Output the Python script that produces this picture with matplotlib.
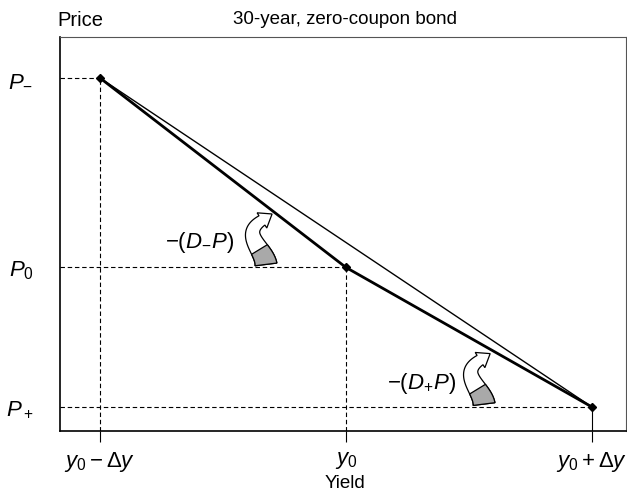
import numpy as np
import matplotlib
matplotlib.use("Agg")
import matplotlib.pyplot as plt
from matplotlib.patches import Polygon
from matplotlib.transforms import IdentityTransform

plt.rcParams['font.family'] = 'Liberation Sans'
plt.rcParams['mathtext.fontset'] = 'custom'
plt.rcParams['mathtext.it'] = 'Liberation Sans:italic'
plt.rcParams['mathtext.rm'] = 'Liberation Sans'
plt.rcParams['mathtext.sf'] = 'Liberation Sans'

# values (yield in %, price of a 30-year zero)
yields = [5.0, 6.0, 7.0]
prices = [23.1, 17.4, 13.2]
x_labels = [r'$y_0 - \Delta y$', r'$y_0$', r'$y_0 + \Delta y$']
y_labels = [r'$P_{-}$', r'$P_0$', r'$P_+$']
notes = [r'$-(D_{-}P)$', r'$-(D_{+}P)$']

fig = plt.figure(figsize=(6.27, 4.96), dpi=100)
ax = fig.add_axes([60/627, 65/496, 566/627, 394/496])
ax.set_xlim(4.838, 7.138)
ax.set_ylim(12.48, 24.33)
x0, y0 = 4.838, 12.48

# chord and the "curve" (two segments)
ax.plot([yields[0], yields[2]], [prices[0], prices[2]], color='black', lw=1.0, zorder=2)
ax.plot(yields, prices, color='black', lw=2.0, zorder=2)
ax.plot(yields, prices, 'D', ms=4.5, color='black', zorder=4)

dash = (0, (4, 2.5))
for i, (x, p) in enumerate(zip(yields, prices)):
    ax.plot([x0, x], [p, p], color='black', lw=0.8, ls=dash, zorder=1)
    ax.plot([x, x], [y0, p], color='black', lw=0.8, ls='-' if i == 2 else dash, zorder=1)

ax.set_xticks(yields, x_labels)
ax.set_yticks(prices, y_labels)
ax.tick_params(axis='x', direction='out', length=8, width=0.8, pad=6, labelsize=16)
ax.tick_params(axis='y', length=0, pad=19, labelsize=16)
for s in ['left', 'bottom']:
    ax.spines[s].set_linewidth(1.2)
for s in ['top', 'right']:
    ax.spines[s].set_linewidth(0.8)
    ax.spines[s].set_color('#555555')

fig.text(345/627, 1 - 20/496, '30-year, zero-coupon bond', ha='center', va='center', fontsize=13.5)
fig.text(57/627, 1 - 20/496, 'Price', ha='left', va='center', fontsize=14.5)
fig.text(345/627, 1 - 483/496, 'Yield', ha='center', va='center', fontsize=13.5)

# annotation texts, placed relative to the middle and right points
ax.annotate(notes[0], xy=(yields[1], prices[1]), xytext=(-146, 25), textcoords='offset pixels',
            ha='center', va='center', fontsize=16)
ax.annotate(notes[1], xy=(yields[2], prices[2]), xytext=(-171, 24), textcoords='offset pixels',
            ha='center', va='center', fontsize=16)


def curly_arrow(ax, anchor, off):
    # ribbon-like curved arrow drawn in pixel space, tail centre at anchor + off
    ax_, ay_ = ax.transData.transform(anchor)
    tx, ty = ax_ + off[0], ay_ - off[1]
    ctrl = np.array([[0, 0], [-2, -16], [-26, -30], [-4, -44]], float)
    ctrl[:, 1] *= -1
    ctrl += [tx, ty]
    t = np.linspace(0, 1, 60)[:, None]
    b = ((1-t)**3*ctrl[0] + 3*(1-t)**2*t*ctrl[1] + 3*(1-t)*t**2*ctrl[2] + t**3*ctrl[3])
    d = (3*(1-t)**2*(ctrl[1]-ctrl[0]) + 6*(1-t)*t*(ctrl[2]-ctrl[1]) + 3*t**2*(ctrl[3]-ctrl[2]))
    d /= np.linalg.norm(d, axis=1)[:, None]
    n = np.column_stack([-d[:, 1], d[:, 0]])
    w = (22 - 11*t) / 2
    left, right = b + n*w, b - n*w
    dd, nn, base = d[-1], n[-1], b[-1]
    head = [base + nn*9, base + dd*12, base - nn*9]
    pts = np.vstack([left, head, right[::-1]])
    ax.add_patch(Polygon(pts, closed=True, facecolor='white', edgecolor='black', lw=0.9,
                         transform=IdentityTransform(), zorder=3))
    k = 20
    gray = np.vstack([left[:k], right[:k][::-1]])
    ax.add_patch(Polygon(gray, closed=True, facecolor='#a9a9a9', edgecolor='black', lw=0.9,
                         transform=IdentityTransform(), zorder=3))


curly_arrow(ax, (yields[1], prices[1]), (-80, -3))
curly_arrow(ax, (yields[2], prices[2]), (-108, -3))

fig.savefig('out.png', dpi=100)
